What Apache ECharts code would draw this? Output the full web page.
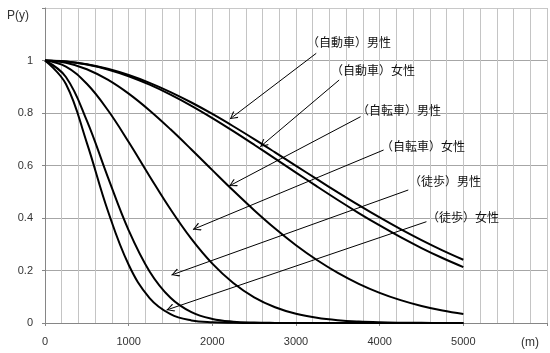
<!DOCTYPE html>
<html>
<head>
<meta charset="utf-8">
<script src="https://cdn.jsdelivr.net/npm/echarts@6/dist/echarts.min.js"></script>
<style>
html,body{margin:0;padding:0;background:#fff;}
#chart{width:550px;height:353px;}
</style>
</head>
<body>
<div id="chart"></div>
<script>
// distance (m)
const distances = [0, 250, 500, 750, 1000, 1250, 1500, 1750, 2000, 2250, 2500, 2750, 3000, 3250, 3500, 3750, 4000, 4250, 4500, 4750, 5000];
// P(y) per mode / sex
const carMale    = [1, 0.9964, 0.9859, 0.9685, 0.9446, 0.9148, 0.8797, 0.8400, 0.7963, 0.7495, 0.7005, 0.6500, 0.5989, 0.5479, 0.4977, 0.4489, 0.4020, 0.3574, 0.3156, 0.2766, 0.2408];
const carFemale  = [1, 0.9961, 0.9847, 0.9658, 0.9400, 0.9078, 0.8700, 0.8274, 0.7807, 0.7310, 0.6792, 0.6263, 0.5730, 0.5202, 0.4686, 0.4189, 0.3716, 0.3270, 0.2856, 0.2475, 0.2129];
const bikeMale   = [1, 0.9916, 0.9668, 0.9268, 0.8736, 0.8096, 0.7378, 0.6611, 0.5824, 0.5045, 0.4297, 0.3598, 0.2963, 0.2399, 0.1909, 0.1494, 0.1150, 0.0871, 0.0648, 0.0474, 0.0341];
const bikeFemale = [1, 0.9770, 0.9112, 0.8113, 0.6895, 0.5594, 0.4332, 0.3203, 0.2260, 0.1523, 0.0979, 0.0601, 0.0352, 0.0197, 0.0105, 0.0054, 0.0026, 0.0012, 0.0005, 0.0002, 0.0001];
const walkMale   = [1, 0.9370, 0.7708, 0.5567, 0.3530, 0.1965, 0.0961, 0.0412, 0.0155, 0.0051, 0.0015, 0.0004, 0.0001, 0, 0, 0, 0, 0, 0, 0, 0];
const walkFemale = [1, 0.9102, 0.6864, 0.4287, 0.2219, 0.0951, 0.0338, 0.0099, 0.0024, 0.0005, 0.0001, 0, 0, 0, 0, 0, 0, 0, 0, 0, 0];
const seriesNames = ['（自動車）男性', '（自動車）女性', '（自転車）男性', '（自転車）女性', '（徒歩）男性', '（徒歩）女性'];
// annotation arrows (data coords): label end -> arrow tip
const arrowFrom = [[3242, 1.0274], [3516, 0.9257], [3772, 0.7859], [4047, 0.6590], [4342, 0.5067], [4559, 0.3859]];
const arrowTo   = [[2210, 0.7771], [2573, 0.6716], [2201, 0.5219], [1768, 0.3562], [1512, 0.1829], [1453, 0.0495]];
// label text positions (px, left of text box / vertical centre)
const labelPos = [[307, 42], [331, 70], [357, 110], [381, 146], [409, 181], [427, 217]];
// axis tick labels
const xTickLabels = [0, 1000, 2000, 3000, 4000, 5000];
const yTickLabels = ['0', '0.2', '0.4', '0.6', '0.8', '1'];

const allSeries = [carMale, carFemale, bikeMale, bikeFemale, walkMale, walkFemale];
const chevron = 'path://M40,0 L80,70 L72,80 L40,16 L8,80 L0,70 Z M-40,-80 L-39,-80 Z M120,80 L119,80 Z';

const chart = echarts.init(document.getElementById('chart'), null, {renderer: 'canvas'});
const fontLatin = 'Arial, "Liberation Sans", sans-serif';
const fontJP = '"Noto Sans CJK JP", sans-serif';

const series = allSeries.map((arr, i) => ({
  name: seriesNames[i],
  type: 'line',
  data: distances.map((d, k) => [d, arr[k]]),
  showSymbol: false,
  smooth: 0.4,
  lineStyle: {color: '#000', width: 2},
  itemStyle: {color: '#000'},
  z: 3,
  silent: true
}));

series[0].markLine = {
  silent: true,
  animation: false,
  symbol: ['none', chevron],
  symbolSize: 16,
  label: {show: false},
  lineStyle: {color: '#000', width: 1, type: 'solid'},
  emphasis: {disabled: true},
  data: arrowFrom.map((f, i) => [{coord: f}, {coord: arrowTo[i]}])
};

const yColors = ['#a6a6a6', '#a6a6a6', '#a6a6a6', '#a6a6a6', '#a6a6a6', '#a6a6a6', '#c8c8c8'];

chart.setOption({
  animation: false,
  backgroundColor: '#fff',
  textStyle: {fontFamily: fontLatin},
  grid: {left: 45, top: 8, width: 509, height: 315, containLabel: false},
  xAxis: {
    type: 'value', min: 0, max: 6000, interval: 1000,
    axisLine: {show: true, lineStyle: {color: '#868686', width: 1}},
    axisTick: {show: true, length: 3, lineStyle: {color: '#868686'}},
    axisLabel: {
      margin: 13, color: '#333', fontSize: 11, fontFamily: fontLatin,
      formatter: v => (xTickLabels.indexOf(v) >= 0 ? String(v) : '')
    },
    splitLine: {show: true, lineStyle: {color: '#c4c4c4', width: 1}},
    minorTick: {show: false, splitNumber: 5},
    minorSplitLine: {show: true, lineStyle: {color: '#c4c4c4', width: 1}}
  },
  yAxis: {
    type: 'value', min: 0, max: 1.2, interval: 0.2,
    axisLine: {show: true, lineStyle: {color: '#868686', width: 1}},
    axisTick: {show: true, length: 3, lineStyle: {color: '#868686'}},
    axisLabel: {
      margin: 12, color: '#333', fontSize: 11, fontFamily: fontLatin,
      formatter: v => { const idx = Math.round(v / 0.2); return idx < yTickLabels.length ? yTickLabels[idx] : ''; }
    },
    splitLine: {show: true, lineStyle: {color: yColors, width: 1}}
  },
  series: series,
  graphic: [
    {type: 'text', left: 7, top: 10, style: {text: 'P(y)', fontSize: 12, fill: '#333', fontFamily: fontLatin}},
    {type: 'text', left: 521, top: 337, style: {text: '(m)', fontSize: 12, fill: '#333', fontFamily: fontLatin}}
  ].concat(seriesNames.map((t, i) => ({
    type: 'text', x: labelPos[i][0], y: labelPos[i][1],
    style: {text: t, fontSize: 12, fill: '#111', fontFamily: fontJP, verticalAlign: 'middle', align: 'left'},
    z: 10
  })))
});
</script>
</body>
</html>
